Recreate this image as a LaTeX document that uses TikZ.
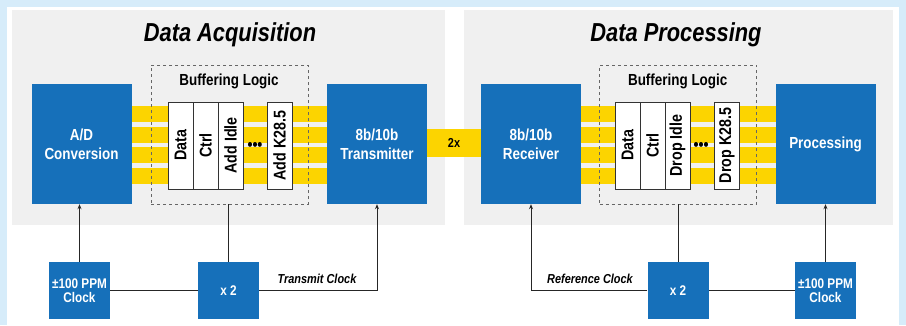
\documentclass[tikz,border=0pt]{standalone}
\usepackage{fontspec}
\setmainfont{Liberation Sans}[FakeStretch=0.84]
\usetikzlibrary{arrows.meta}
\definecolor{frameblue}{RGB}{214,236,250}
\definecolor{panelgray}{RGB}{240,240,240}
\definecolor{boxblue}{RGB}{22,112,186}
\definecolor{baryellow}{RGB}{252,212,0}
\tikzset{
  bluebox/.style={fill=boxblue, draw=none, text=white, font=\bfseries\fontsize{16}{19}\selectfont, align=center, inner sep=0pt},
  clockbox/.style={bluebox, minimum width=61, minimum height=57, font=\bfseries\fontsize{14}{14.5}\selectfont},
  bigbox/.style={bluebox, minimum width=100, minimum height=120},
  wbox/.style={fill=white, draw=black!80, line width=0.6pt, rotate=90, minimum width=87, minimum height=25, inner sep=0pt, font=\bfseries\fontsize{17}{17}\selectfont},
  bufbox/.style={draw=black!60, dashed, line width=0.5pt, minimum width=157, minimum height=139, inner sep=0pt},
  titletext/.style={font=\bfseries\itshape\fontsize{26}{26}\selectfont},
  buftext/.style={font=\bfseries\fontsize{16}{16}\selectfont},
  clocktext/.style={font=\bfseries\itshape\fontsize{13}{13}\selectfont},
  dotstext/.style={font=\bfseries\fontsize{17}{17}\selectfont, inner sep=0pt},
  conn/.style={draw=black!85, line width=0.8pt},
  arr/.style={conn, -{Stealth[length=5pt,width=4pt]}},
  bar/.style={fill=baryellow, draw=none}
}
\begin{document}
\begin{tikzpicture}[x=1pt,y=-1pt]
\useasboundingbox (0,0) rectangle (906,325);
% frame and panels
\fill[frameblue] (0,0) rectangle (906,325);
\fill[white] (7,7) rectangle (899,325);
\fill[panelgray] (12,10) rectangle (445,225);
\fill[panelgray] (464,10) rectangle (893,225);
% yellow bars
\foreach \y in {106,126.7,147.3,168}{
  \fill[bar] (131,\y) rectangle (327,\y+16);
  \fill[bar] (581,\y) rectangle (776,\y+16);
}
\fill[bar] (427,129) rectangle (481,157);
\node[font=\bfseries\fontsize{13}{13}\selectfont] (twox) at (454,143) {2x};
% titles
\node[titletext] (t1) at (230,35) {Data Acquisition};
\node[titletext] (t2) at (676,35) {Data Processing};
% left panel
\node[bigbox] (ad) at (81.5,144) {A/D\\Conversion};
\node[bigbox] (tx) at (377,144) {8b/10b\\Transmitter};
\node[bufbox] (buf1) at (229.5,134.5) {};
\node[buftext] (bl1) at (229,81) {Buffering Logic};
\node[wbox] (d1) at (180.5,145.5) {Data};
\node[wbox] (c1) at (205.5,145.5) {Ctrl};
\node[wbox] (i1) at (230.5,145.5) {Add Idle};
\node[dotstext] (dots1) at (255,146) {\textbullet\textbullet\textbullet};
\node[wbox] (k1) at (279.5,145.5) {Add K28.5};
% right panel
\node[bigbox] (rx) at (531,144) {8b/10b\\Receiver};
\node[bigbox] (pr) at (825.5,144) {Processing};
\node[bufbox] (buf2) at (678,134.5) {};
\node[buftext] (bl2) at (677.7,81) {Buffering Logic};
\node[wbox] (d2) at (627.5,145.5) {Data};
\node[wbox] (c2) at (652.5,145.5) {Ctrl};
\node[wbox] (i2) at (677.5,145.5) {Drop Idle};
\node[dotstext] (dots2) at (701,146) {\textbullet\textbullet\textbullet};
\node[wbox] (k2) at (727,145.5) {Drop K28.5};
% clocks
\node[clockbox] (ppm1) at (79.5,290.5) {±100 PPM\\Clock};
\node[clockbox] (x2a) at (228.5,290.5) {x 2};
\node[clockbox] (x2b) at (678,290.5) {x 2};
\node[clockbox] (ppm2) at (825.5,290.5) {±100 PPM\\Clock};
\node[clocktext] (tcl) at (317,279) {Transmit Clock};
\node[clocktext] (rcl) at (590,279) {Reference Clock};
% connectors
\draw[arr] (ppm1.north) -- (ppm1.north |- ad.south);
\draw[conn] (ppm1.east) -- (x2a.west);
\draw[conn] (x2a.north) -- (x2a.north |- buf1.south);
\draw[arr] (x2a.east) -| (tx.south);
\draw[arr] (x2b.west) -| (rx.south);
\draw[conn] (x2b.north) -- (x2b.north |- buf2.south);
\draw[conn] (x2b.east) -- (ppm2.west);
\draw[arr] (ppm2.north) -- (ppm2.north |- pr.south);
\end{tikzpicture}
\end{document}
